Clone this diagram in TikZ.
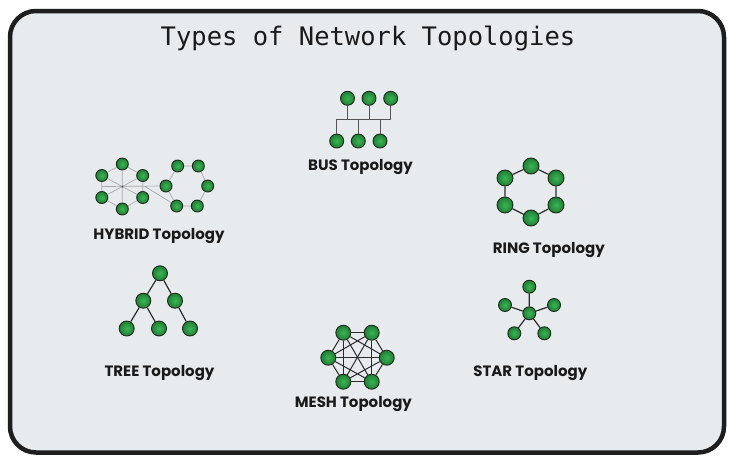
\documentclass[tikz,border=0pt]{standalone}
\usepackage{fontspec}
\newfontfamily\titlefont{DejaVu Sans Mono}
\newfontfamily\labelfont{Poppins}
\definecolor{bg}{HTML}{E8EBEE}
\definecolor{framec}{HTML}{1E1E1E}
\definecolor{ink}{HTML}{1A1A1A}
\definecolor{gin}{HTML}{3CB556}
\definecolor{gout}{HTML}{1E7F33}
\definecolor{nedge}{HTML}{1B2A1B}
\definecolor{wire}{HTML}{2B2B2B}
\definecolor{buswire}{HTML}{555555}
\definecolor{lwire}{HTML}{A8A8A8}
\tikzset{
  pc/.style={circle, draw=nedge, line width=0.9pt, inner sep=0pt, minimum size=#1,
    shading=radial, inner color=gin, outer color=gout},
  pc/.default=14pt,
  lbl/.style={font=\labelfont\bfseries\fontsize{15}{18}\selectfont, text=ink, anchor=base, inner sep=0pt},
  darkwire/.style={draw=wire, line width=1.2pt},
  thinwire/.style={draw=lwire, line width=0.7pt},
}
\begin{document}
\begin{tikzpicture}[x=1pt,y=-1pt]
\useasboundingbox (0,0) rectangle (736,464);
\fill[white] (0,0) rectangle (736,464);
\draw[framec, fill=bg, line width=4.5pt, rounded corners=26pt] (10,11) rectangle (724,452.5);
\node[font=\titlefont\fontsize{25.5}{30}\selectfont, text=ink, anchor=base, inner sep=0pt] (title) at (368,45) {Types of Network Topologies};

% ---------- BUS ----------
\node[pc] (bt1) at (347.5,98.3) {};
\node[pc] (bt2) at (369,98.3) {};
\node[pc] (bt3) at (390.7,98.3) {};
\node[pc] (bb1) at (336.7,141) {};
\node[pc] (bb2) at (358.3,141) {};
\node[pc] (bb3) at (380,141) {};
\coordinate (busL) at (336.7,119);
\coordinate (busR) at (390.7,119);
\coordinate (bj1) at (347.5,119);
\coordinate (bj2) at (369,119);
\coordinate (bj4) at (358.3,119);
\coordinate (bj5) at (380,119);
\draw[draw=buswire, line width=1pt] (busL) -- (busR);
\draw[draw=buswire, line width=1pt] (bt1) -- (bj1) (bt2) -- (bj2) (bt3) -- (busR)
  (bb1) -- (busL) (bb2) -- (bj4) (bb3) -- (bj5);
\node[lbl] (buslbl) at (360.5,170) {BUS Topology};

% ---------- RING ----------
\node[pc=16pt] (r1) at (531,166) {};
\node[pc=16pt] (r2) at (556,178) {};
\node[pc=16pt] (r3) at (556,205) {};
\node[pc=16pt] (r4) at (531,218) {};
\node[pc=16pt] (r5) at (505,205) {};
\node[pc=16pt] (r6) at (505,178) {};
\draw[darkwire] (r1) -- (r2) (r2) -- (r3) (r3) -- (r4) (r4) -- (r5) (r5) -- (r6) (r6) -- (r1);
\node[lbl] (ringlbl) at (548.8,253.5) {RING Topology};

% ---------- HYBRID ----------
\coordinate (hub) at (122.3,186.5);
\node[pc=12pt] (h1) at (122.3,164) {};
\node[pc=12pt] (h2) at (142.7,175.5) {};
\node[pc=12pt] (h3) at (142.7,197.5) {};
\node[pc=12pt] (h4) at (122.3,209) {};
\node[pc=12pt] (h5) at (101.8,197.5) {};
\node[pc=12pt] (h6) at (101.8,175.5) {};
\node[pc=12pt] (k1) at (177.7,166) {};
\node[pc=12pt] (k2) at (198.3,166) {};
\node[pc=12pt] (k3) at (207.7,186) {};
\node[pc=12pt] (k4) at (197.3,206) {};
\node[pc=12pt] (k5) at (176.7,206) {};
\node[pc=12pt] (k6) at (166,186) {};
\coordinate (hl) at (101.8,186.5);
\coordinate (hr) at (145,186.5);
\draw[thinwire] (h1) -- (h2) (h2) -- (h3) (h3) -- (h4) (h4) -- (h5) (h5) -- (h6) (h6) -- (h1);
\draw[thinwire] (hub) -- (h1) (hub) -- (h2) (hub) -- (h3) (hub) -- (h4) (hub) -- (h5) (hub) -- (h6);
\draw[thinwire] (hl) -- (k6) (hr) -- (k5);
\draw[thinwire] (k1) -- (k2) (k2) -- (k3) (k3) -- (k4) (k4) -- (k5) (k5) -- (k6) (k6) -- (k1);
\fill[wire] (hub) circle (0.8pt);
\node[lbl] (hyblbl) at (159,239.5) {HYBRID Topology};

% ---------- TREE ----------
\node[pc=15pt] (t0) at (160,273.3) {};
\node[pc=15pt] (t1) at (143.3,300.7) {};
\node[pc=15pt] (t2) at (175,300.7) {};
\node[pc=15pt] (t3) at (126.7,328.5) {};
\node[pc=15pt] (t4) at (159,328.5) {};
\node[pc=15pt] (t5) at (190,328.5) {};
\draw[darkwire] (t0) -- (t1) (t0) -- (t2) (t1) -- (t3) (t1) -- (t4) (t2) -- (t5);
\node[lbl] (treelbl) at (159.5,376) {TREE Topology};

% ---------- MESH ----------
\node[pc=15pt] (m1) at (343.3,332.7) {};
\node[pc=15pt] (m2) at (371.7,332.7) {};
\node[pc=15pt] (m3) at (386.7,357.7) {};
\node[pc=15pt] (m4) at (371.7,381.7) {};
\node[pc=15pt] (m5) at (343.3,381.7) {};
\node[pc=15pt] (m6) at (328.3,357.7) {};
\foreach \a/\b in {1/2,1/3,1/4,1/5,1/6,2/3,2/4,2/5,2/6,3/4,3/5,3/6,4/5,4/6,5/6}
  \draw[draw=wire, line width=1pt] (m\a) -- (m\b);
\node[lbl] (meshlbl) at (353.4,407) {MESH Topology};

% ---------- STAR ----------
\node[pc=13pt] (s0) at (529.3,313.3) {};
\node[pc=13pt] (s1) at (529.3,286.7) {};
\node[pc=13pt] (s2) at (554,305) {};
\node[pc=13pt] (s3) at (544.3,333.3) {};
\node[pc=13pt] (s4) at (514.3,333.3) {};
\node[pc=13pt] (s5) at (505,305) {};
\draw[darkwire] (s0) -- (s1) (s0) -- (s2) (s0) -- (s3) (s0) -- (s4) (s0) -- (s5);
\node[lbl] (starlbl) at (530.3,376.5) {STAR Topology};
\end{tikzpicture}
\end{document}
